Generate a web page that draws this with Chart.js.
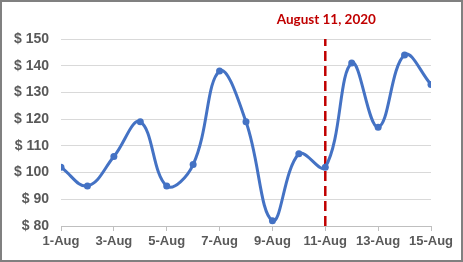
<!DOCTYPE html>
<html>
<head>
<meta charset="utf-8">
<script src="https://cdn.jsdelivr.net/npm/chart.js@4"></script>
<style>
  html, body { margin: 0; padding: 0; background: #fff; }
  #wrap { width: 463px; height: 262px; box-sizing: border-box; border: 2px solid #808080; background: #fff; }
  #c { display: block; }
</style>
</head>
<body>
<div id="wrap"><canvas id="c" width="459" height="258"></canvas></div>
<script>
// ---- data ----
const categories = ["1-Aug","2-Aug","3-Aug","4-Aug","5-Aug","6-Aug","7-Aug","8-Aug","9-Aug","10-Aug","11-Aug","12-Aug","13-Aug","14-Aug","15-Aug"];
const prices = [102, 95, 106, 119, 95, 103, 138, 119, 82, 107, 102, 141, 117, 144, 133];
const yTickValues = [80, 90, 100, 110, 120, 130, 140, 150];
const markerDay = 11;
const markerLabel = "August 11, 2020";

const points = prices.map((v, i) => ({ x: i + 1, y: v }));
const markerLine = [{ x: markerDay, y: yTickValues[0] }, { x: markerDay, y: yTickValues[yTickValues.length - 1] }];

const labelPlugin = {
  id: 'markerLabel',
  afterDraw(chart) {
    const ctx = chart.ctx;
    const x = chart.scales.x.getPixelForValue(markerDay);
    ctx.save();
    ctx.font = 'bold 13.5px Lato, "Liberation Sans", sans-serif';
    ctx.fillStyle = '#C00000';
    ctx.textAlign = 'center';
    ctx.textBaseline = 'middle';
    ctx.fillText(markerLabel, x + 1, 18);
    ctx.restore();
  }
};

new Chart(document.getElementById('c'), {
  type: 'line',
  data: {
    datasets: [
      {
        data: points,
        borderColor: '#4472C4',
        backgroundColor: '#4472C4',
        borderWidth: 3,
        pointRadius: 3.5,
        pointBorderWidth: 0,
        tension: 0.4,
        order: 1
      },
      {
        data: markerLine,
        borderColor: '#C00000',
        borderWidth: 2.5,
        borderDash: [10, 5],
        pointRadius: 0,
        tension: 0,
        order: 2
      }
    ]
  },
  options: {
    responsive: false,
    animation: false,
    layout: { padding: { left: 0, right: 30, top: 37, bottom: 0 } },
    plugins: { legend: { display: false }, tooltip: { enabled: false } },
    scales: {
      x: {
        type: 'linear',
        min: 1, max: 15,
        afterBuildTicks(scale) {
          scale.ticks = categories.map((c, i) => ({ value: i + 1 })).filter((t, i) => i % 2 === 0);
        },
        afterFit(scale) { scale.height = 34; },
        grid: { display: true, drawOnChartArea: false, drawTicks: true, tickLength: 5, color: '#BFBFBF' },
        border: { display: true, color: '#BFBFBF', width: 1 },
        ticks: {
          autoSkip: false,
          maxRotation: 0,
          padding: 3,
          color: '#595959',
          font: { family: '"Liberation Sans", Arial, sans-serif', size: 13, weight: 'bold' },
          callback: (v) => categories[v - 1]
        }
      },
      y: {
        min: yTickValues[0], max: yTickValues[yTickValues.length - 1],
        afterBuildTicks(scale) { scale.ticks = yTickValues.map(v => ({ value: v })); },
        afterFit(scale) { scale.width = 59; },
        grid: { color: '#D9D9D9', lineWidth: 1, drawTicks: false },
        border: { display: false },
        ticks: {
          padding: 12,
          color: '#595959',
          font: { family: '"Liberation Sans", Arial, sans-serif', size: 14, weight: 'bold' },
          callback: (v) => '$ ' + v
        }
      }
    }
  },
  plugins: [labelPlugin]
});
</script>
</body>
</html>
